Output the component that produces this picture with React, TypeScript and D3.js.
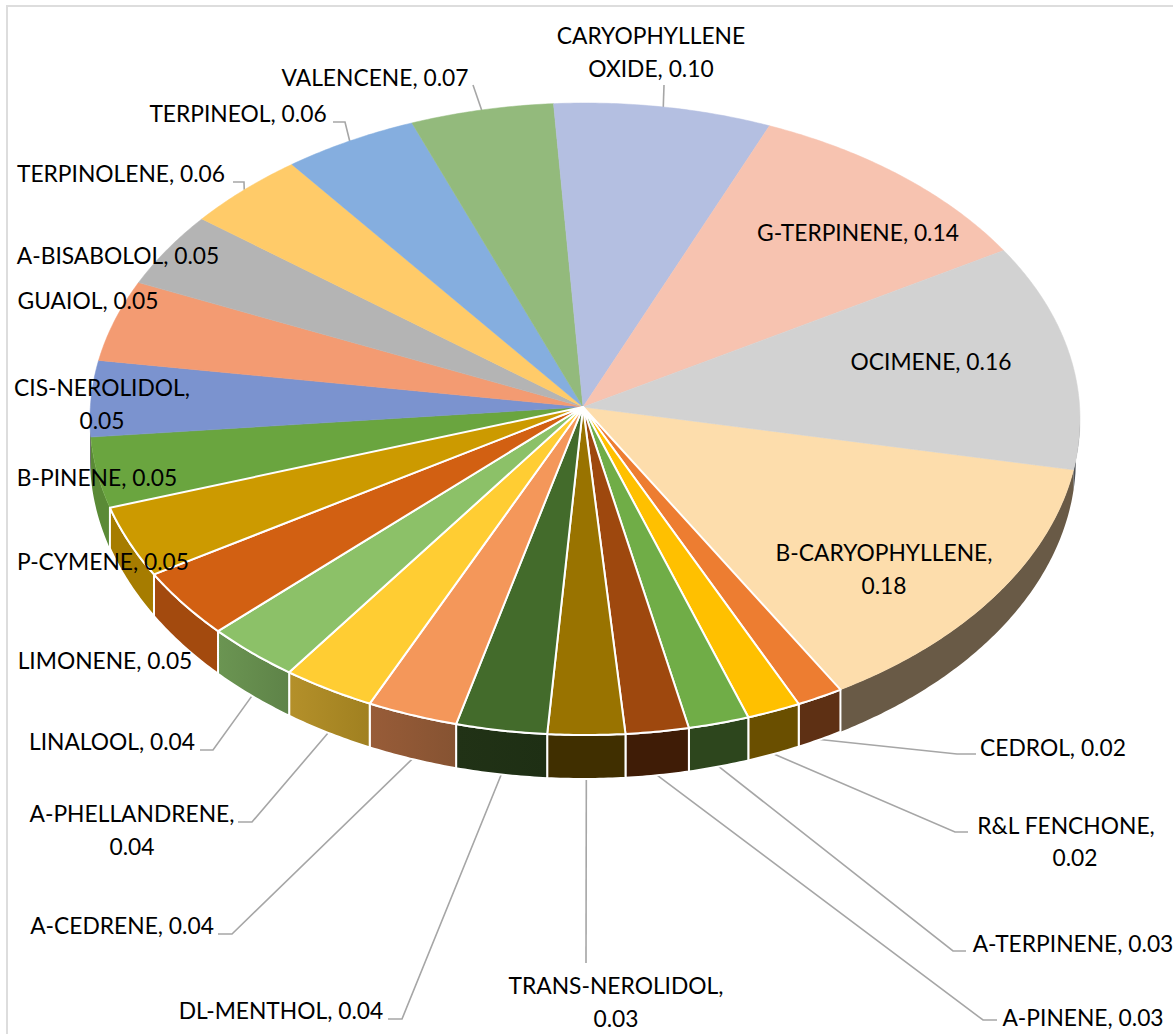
import React from "react";
import * as d3 from "d3";

const W = 1173;
const H = 1034;

// Slices clockwise, starting at B-CARYOPHYLLENE
const names = ["B-CARYOPHYLLENE","CEDROL","R&L FENCHONE","A-TERPINENE","A-PINENE","TRANS-NEROLIDOL","DL-MENTHOL","A-CEDRENE","A-PHELLANDRENE","LINALOOL","LIMONENE","P-CYMENE","B-PINENE","CIS-NEROLIDOL","GUAIOL","A-BISABOLOL","TERPINOLENE","TERPINEOL","VALENCENE","CARYOPHYLLENE OXIDE","G-TERPINENE","OCIMENE"];
const values = [0.183,0.02,0.023,0.026,0.027,0.033,0.039,0.039,0.04,0.041,0.047,0.049,0.049,0.053,0.057,0.053,0.056,0.062,0.066,0.1,0.139,0.157];
const valueLabels = ["0.18","0.02","0.02","0.03","0.03","0.03","0.04","0.04","0.04","0.04","0.05","0.05","0.05","0.05","0.05","0.05","0.06","0.06","0.07","0.10","0.14","0.16"];

const topColors = ["#FDDDAC","#ED7D31","#FFC000","#70AD47","#9E480E","#997300","#436B2B","#F4975A","#FFCD33","#8CC168","#D26012","#CC9A00","#6AA53F","#7B93CF","#F39B72","#B4B4B4","#FFCB69","#85AEDF","#93BA7C","#B4BFE1","#F7C3B0","#D2D2D2"];
const sideLeft = ["#695A46","#5E3014","#6A4F00","#2D461D","#3F1C06","#402F00","#213216","#985C38","#B4902A","#6B9552","#A34A0E","#A67C00","#5A8A36","#555555","#555555","#555555","#555555","#555555","#555555","#555555","#555555","#4F5256"];
const sideRight = ["#695A46","#5E3014","#6A4F00","#2D461D","#3F1C06","#402F00","#1E2F14","#865332","#A08020","#5E8348","#A34A0E","#A67C00","#5A8A36","#555555","#555555","#555555","#555555","#555555","#555555","#555555","#555555","#4F5256"];
const whiteEdged = [false,true,true,true,true,true,true,true,true,true,true,true,false,false,false,false,false,false,false,false,false,false];

// Label placement: slice index, centre x, centre y per line, text lines are built from names/valueLabels
const labelLayout: { i: number; x: number; ys: number[]; split?: number }[] = [
  { i: 0, x: 884, ys: [553, 586] },
  { i: 1, x: 1053, ys: [748] },
  { i: 2, x: 1066, ys: [826, 858] },
  { i: 3, x: 1073, ys: [944] },
  { i: 4, x: 1083, ys: [1018] },
  { i: 5, x: 616, ys: [986, 1019] },
  { i: 6, x: 281, ys: [1011] },
  { i: 7, x: 122, ys: [926] },
  { i: 8, x: 132, ys: [814, 847] },
  { i: 9, x: 112, ys: [742] },
  { i: 10, x: 105, ys: [661] },
  { i: 11, x: 103, ys: [562] },
  { i: 12, x: 97, ys: [478] },
  { i: 13, x: 102, ys: [388, 421] },
  { i: 14, x: 88, ys: [301] },
  { i: 15, x: 118, ys: [256] },
  { i: 16, x: 121, ys: [174] },
  { i: 17, x: 238, ys: [114] },
  { i: 18, x: 375, ys: [78] },
  { i: 19, x: 651, ys: [36, 69], split: 1 },
  { i: 20, x: 858, ys: [233] },
  { i: 21, x: 931, ys: [362] },
];

// Leader lines: slice index and the bends near the label; the slice end comes from the pie
const leaderLayout: { i: number; bends: [number, number][]; bottom: boolean }[] = [
  { i: 1, bends: [[976, 754], [957, 754]], bottom: true },
  { i: 2, bends: [[968, 832], [955, 832]], bottom: true },
  { i: 3, bends: [[966, 951], [953, 951]], bottom: true },
  { i: 4, bends: [[997, 1020], [983, 1020]], bottom: true },
  { i: 5, bends: [[586, 963]], bottom: true },
  { i: 6, bends: [[388, 1019], [402, 1019]], bottom: true },
  { i: 7, bends: [[218, 934], [232, 934]], bottom: true },
  { i: 8, bends: [[238, 822], [252, 822]], bottom: true },
  { i: 9, bends: [[200, 750], [213, 750]], bottom: true },
  { i: 16, bends: [[233, 182], [244, 182]], bottom: false },
  { i: 17, bends: [[333, 122], [345, 122]], bottom: false },
  { i: 18, bends: [[473, 85]], bottom: false },
  { i: 19, bends: [[664, 85]], bottom: false },
];

// Projection of the tilted disc
const top = { cx: 585, cy: 419, rx: 495, ry: 316 };
const bot = { cx: 583, cy: 458, rx: 493, ry: 321 };
const apex: [number, number] = [583, 407];
const ax = (apex[0] - top.cx) / top.rx;
const ay = (apex[1] - top.cy) / top.ry;

function rim(th: number): [number, number] {
  const c = Math.cos(th), s = Math.sin(th);
  const b = ax * c + ay * s;
  const t = -b + Math.sqrt(b * b - (ax * ax + ay * ay) + 1);
  return [top.cx + top.rx * (ax + t * c), top.cy + top.ry * (ay + t * s)];
}
function below(p: [number, number]): [number, number] {
  const x = Math.max(bot.cx - bot.rx, Math.min(bot.cx + bot.rx, p[0]));
  const u = (x - bot.cx) / bot.rx;
  return [x, bot.cy + bot.ry * Math.sqrt(Math.max(0, 1 - u * u))];
}

const rad = Math.PI / 180;
const startAngle = 101.35 * rad;
const pie = d3.pie<number>().sort(null).startAngle(startAngle).endAngle(startAngle + 2 * Math.PI);
const arcs = pie(values);
const line = d3.line();
const toTheta = (a: number) => a - Math.PI / 2;

function samples(a0: number, a1: number): number[] {
  const n = Math.max(2, Math.ceil((a1 - a0) / (0.5 * rad)));
  return d3.range(n + 1).map((k) => a0 + ((a1 - a0) * k) / n);
}

function topPath(i: number): string {
  const a = arcs[i];
  const pts = samples(toTheta(a.startAngle), toTheta(a.endAngle)).map(rim);
  return line([apex, ...pts])! + "Z";
}

const frontFrom = 2 * rad;
const frontTo = 178 * rad;
function sidePath(i: number): string | null {
  const a = arcs[i];
  const t0 = toTheta(a.startAngle);
  const t1 = toTheta(a.endAngle);
  const ranges: [number, number][] = [[t0, t1], [t0 + 2 * Math.PI, t1 + 2 * Math.PI], [t0 - 2 * Math.PI, t1 - 2 * Math.PI]];
  for (const [p, q] of ranges) {
    const lo = Math.max(p, frontFrom);
    const hi = Math.min(q, frontTo);
    if (hi > lo) {
      const pts = samples(lo, hi).map(rim);
      const low = pts.map(below).reverse();
      return line([...pts, ...low])! + "Z";
    }
  }
  return null;
}

function leaderPoints(l: { i: number; bends: [number, number][]; bottom: boolean }): [number, number][] {
  const a = arcs[l.i];
  const mid = toTheta((a.startAngle + a.endAngle) / 2);
  const p = rim(mid);
  return [...l.bends, l.bottom ? below(p) : p];
}

function labelLines(i: number, split?: number): string[] {
  const full = names[i] + ",";
  if (split) {
    const words = names[i].split(" ");
    return [words.slice(0, split).join(" "), words.slice(split).join(" ") + ", " + valueLabels[i]];
  }
  return [full, valueLabels[i]];
}

const order = d3.range(values.length).sort((a, b) => Number(whiteEdged[a]) - Number(whiteEdged[b]));
const fontFamily = "Lato, 'Open Sans', sans-serif";

export default function App() {
  return (
    <svg width={W} height={H} viewBox={`0 0 ${W} ${H}`} style={{ position: "absolute", left: 0, top: 0, background: "#fff" }}>
      <defs>
        {values.map((_, i) => (
          <linearGradient key={i} id={`side${i}`} x1="0" x2="1" y1="0" y2="0">
            <stop offset="0" stopColor={sideLeft[i]} />
            <stop offset="1" stopColor={sideRight[i]} />
          </linearGradient>
        ))}
      </defs>
      <rect x={7} y={6} width={W + 40} height={H + 40} fill="#fff" stroke="#DDDDDD" strokeWidth={2} />
      <g fill="none" stroke="#A6A6A6" strokeWidth={1.6}>
        {leaderLayout.map((l) => (
          <path key={l.i} d={line(leaderPoints(l))!} />
        ))}
      </g>
      <g>
        {order.map((i) => {
          const d = sidePath(i);
          return d ? (
            <path key={i} d={d} fill={`url(#side${i})`} stroke={whiteEdged[i] ? "#fff" : "none"} strokeWidth={2} strokeLinejoin="round" />
          ) : null;
        })}
      </g>
      <g>
        {order.map((i) => (
          <path key={i} d={topPath(i)} fill={topColors[i]} stroke={whiteEdged[i] ? "#fff" : topColors[i]} strokeWidth={whiteEdged[i] ? 2 : 0.5} strokeLinejoin="round" />
        ))}
      </g>
      <g fontFamily={fontFamily} fontSize={22.8} fill="#000" textAnchor="middle">
        {labelLayout.map((l) => {
          const lines = l.ys.length > 1 ? labelLines(l.i, l.split) : [`${names[l.i]}, ${valueLabels[l.i]}`];
          return lines.map((t, k) => (
            <text key={`${l.i}-${k}`} x={l.x + (l.ys.length > 1 && k === 1 && l.i === 2 ? 9 : 0)} y={l.ys[k]} dy="0.35em">
              {t}
            </text>
          ));
        })}
      </g>
    </svg>
  );
}
